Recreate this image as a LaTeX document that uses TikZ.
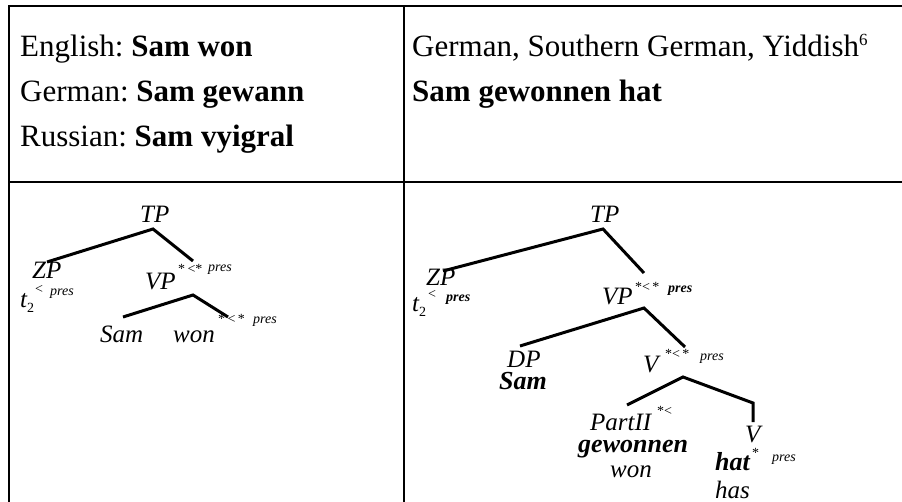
\documentclass[tikz,border=0pt]{standalone}
\usepackage{fontspec}
\setmainfont{Liberation Serif}
\usetikzlibrary{positioning}
\frenchspacing
\tikzset{
  rule/.style={line width=2pt},
  branch/.style={line width=3pt},
  cellt/.style={anchor=base west, inner sep=0pt, font=\fontsize{31}{36}\selectfont},
  cat/.style={anchor=base west, inner sep=0pt, font=\fontsize{25}{30}\selectfont\itshape},
  word/.style={anchor=base west, inner sep=0pt, font=\fontsize{26}{30}\selectfont\bfseries\itshape},
  feat/.style={anchor=base west, inner sep=0pt, font=\fontsize{14}{16}\selectfont},
  feati/.style={anchor=base west, inner sep=0pt, font=\fontsize{14}{16}\selectfont\itshape},
  featb/.style={anchor=base west, inner sep=0pt, font=\fontsize{14}{16}\selectfont\bfseries\itshape},
}

\begin{document}
\begin{tikzpicture}[x=1pt,y=-1pt]
\useasboundingbox (0,0) rectangle (902,502);

% Table frame
\draw[rule] (8,6) -- (902,6);
\draw[rule] (9,6) -- (9,502);
\draw[rule] (404,6) -- (404,502);
\draw[rule] (9,182) -- (902,182);

% Example sentences
\node[cellt] (eng) at (20,57) {English: \textbf{Sam won}};
\node[cellt] (ger) at (20,102) {German: \textbf{Sam gewann}};
\node[cellt] (rus) at (20,147) {Russian: \textbf{Sam vyigral}};
\node[cellt] (dial) at (412,57) {German, Southern German, Yiddish\raisebox{11pt}{\fontsize{17}{17}\selectfont 6}};
\node[cellt] (gsent) at (412,102) {\textbf{Sam gewonnen hat}};

% Left tree
\node[cat] (tpL) at (140,223) {TP};
\node[cat] (zpL) at (32,279) {ZP};
\node[cat] (tL) at (20,308) {t};
\node[feat] (tLsub) at (27,313) {2};
\node[feat] (tLsup) at (35,294) {<};
\node[feati] (tLpres) at (50,296) {pres};
\node[cat] (vpL) at (145,290) {VP};
\node[feat] (vpLsup) at (178,274) {*\,<*};
\node[feati] (vpLpres) at (208,272) {pres};
\node[cat] (samL) at (100,343) {Sam};
\node[cat] (wonL) at (173,343) {won};
\node[feat] (wonLsup) at (218,324) {*\,<\,*};
\node[feati] (wonLpres) at (253,324) {pres};

\coordinate (tpLj) at (153,229);
\coordinate (zpLj) at (47,262);
\coordinate (vpLj) at (193,261);
\coordinate (vpLk) at (193,295);
\coordinate (samLj) at (123,317);
\coordinate (wonLj) at (228,317);
\draw[branch] (zpLj) -- (tpLj) -- (vpLj);
\draw[branch] (samLj) -- (vpLk) -- (wonLj);

% Right tree
\node[cat] (tpR) at (590,223) {TP};
\node[cat] (zpR) at (426,286) {ZP};
\node[cat] (tR) at (412,312) {t};
\node[feat] (tRsub) at (419,317) {2};
\node[feat] (tRsup) at (428,299) {<};
\node[featb] (tRpres) at (446,302) {pres};
\node[cat] (vpR) at (602,305) {VP};
\node[feat] (vpRsup) at (635,292) {*<\,*};
\node[featb] (vpRpres) at (668,293) {pres};
\node[cat] (dpR) at (507,367) {DP};
\node[word] (samR) at (499,389) {Sam};
\node[cat] (vR) at (643,373) {V};
\node[feat] (vRsup) at (665,359) {*<\,*};
\node[feati] (vRpres) at (700,360) {pres};
\node[cat] (partR) at (590,430) {PartII};
\node[feat] (partRsup) at (657,415) {*<};
\node[word] (gewR) at (578,452) {gewonnen};
\node[cat] (wonR) at (610,477) {won};
\node[cat] (vlowR) at (745,442) {V};
\node[word] (hatR) at (715,470) {hat};
\node[feat] (hatRsup) at (752,457) {*};
\node[feati] (hatRpres) at (772,461) {pres};
\node[cat] (hasR) at (715,498) {has};

\coordinate (tpRj) at (603,229);
\coordinate (zpRj) at (443,271);
\coordinate (vpRj) at (644,273);
\coordinate (vpRk) at (644,308);
\coordinate (dpRj) at (520,346);
\coordinate (vRj) at (685,347);
\coordinate (vRk) at (683,377);
\coordinate (partRj) at (627,405);
\coordinate (vlowRj) at (753,403);
\coordinate (vlowRe) at (753,422);
\draw[branch] (zpRj) -- (tpRj) -- (vpRj);
\draw[branch] (dpRj) -- (vpRk) -- (vRj);
\draw[branch] (partRj) -- (vRk) -- (vlowRj) -- (vlowRe);

\end{tikzpicture}
\end{document}
